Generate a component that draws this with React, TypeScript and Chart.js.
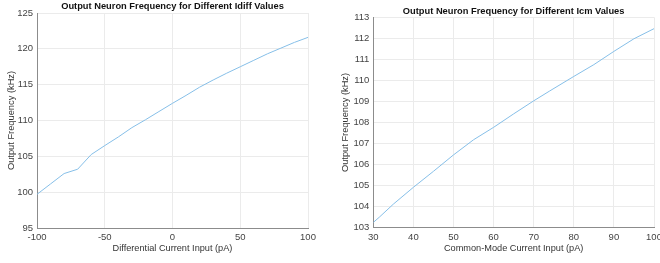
import React, { useEffect, useRef } from 'react';
import { Chart, registerables } from 'chart.js';

Chart.register(...registerables);

// ---- Data: left chart (differential current sweep) ----
const idiffInput = [-100, -90, -80, -70, -60, -50, -40, -30, -20, -10, 0, 10, 20, 30, 40, 50, 60, 70, 80, 90, 100];
const idiffFreq = [99.7, 101.15, 102.6, 103.2, 105.25, 106.5, 107.7, 109.0, 110.1, 111.25, 112.4, 113.5, 114.65, 115.65, 116.6, 117.5, 118.4, 119.3, 120.1, 120.9, 121.6];
const idiffXRange = [-100, 100, 50];
const idiffYRange = [95, 125, 5];

// ---- Data: right chart (common-mode current sweep) ----
const icmInput = [30, 31.5, 35, 40, 45, 50, 55, 60, 65, 70, 74, 80, 85, 90, 95, 100];
const icmFreq = [103.25, 103.5, 104.12, 104.92, 105.68, 106.46, 107.18, 107.77, 108.41, 109.03, 109.5, 110.19, 110.75, 111.38, 111.98, 112.46];
const icmXRange = [30, 100, 10];
const icmYRange = [103, 113, 1];

const titles = [
  'Output Neuron Frequency for Different Idiff Values',
  'Output Neuron Frequency for Different Icm Values',
];
const xTitles = ['Differential Current Input (pA)', 'Common-Mode Current Input (pA)'];
const yTitle = 'Output Frequency (kHz)';

const FONT = "'Liberation Sans', Arial, Helvetica, sans-serif";
const LINE_COLOR = '#86bfe8';
const GRID_COLOR = '#ebebeb';
const AXIS_COLOR = '#8c8c8c';
const TICK_COLOR = '#444444';

type Cfg = {
  xs: number[];
  ys: number[];
  xr: number[];
  yr: number[];
  title: string;
  xTitle: string;
  pad: { top: number; right: number };
  yWidth: number;
  xHeight: number;
  yTitlePad: number;
  titleOffset: number;
};

const titlePlugin = {
  id: 'plotTitle',
  afterDraw(chart: any, _args: any, opts: any) {
    const { ctx, chartArea } = chart;
    ctx.save();
    ctx.font = `bold 9.3px ${FONT}`;
    ctx.fillStyle = '#111111';
    ctx.textAlign = 'center';
    ctx.textBaseline = 'middle';
    ctx.fillText(opts.text, (chartArea.left + chartArea.right) / 2, chartArea.top - opts.offset);
    ctx.restore();
  },
};

function Plot({ cfg }: { cfg: Cfg }) {
  const ref = useRef<HTMLCanvasElement | null>(null);
  useEffect(() => {
    if (!ref.current) return;
    const chart = new Chart(ref.current, {
      type: 'line',
      data: {
        datasets: [
          {
            data: cfg.xs.map((x, i) => ({ x, y: cfg.ys[i] })),
            borderColor: LINE_COLOR,
            borderWidth: 1,
            pointRadius: 0,
            tension: 0,
            fill: false,
          },
        ],
      },
      plugins: [titlePlugin],
      options: {
        animation: false,
        responsive: false,
        devicePixelRatio: 1,
        layout: { padding: { top: cfg.pad.top, right: cfg.pad.right, bottom: 0, left: 0 } },
        plugins: {
          legend: { display: false },
          tooltip: { enabled: false },
          plotTitle: { text: cfg.title, offset: cfg.titleOffset },
        } as any,
        scales: {
          x: {
            type: 'linear',
            min: cfg.xr[0],
            max: cfg.xr[1],
            ticks: {
              stepSize: cfg.xr[2],
              autoSkip: false,
              maxRotation: 0,
              padding: 3.5,
              color: TICK_COLOR,
              font: { family: FONT, size: 9.5 },
            },
            grid: { color: GRID_COLOR, drawTicks: false, lineWidth: 1 },
            border: { color: AXIS_COLOR, width: 1 },
            title: {
              display: true,
              text: cfg.xTitle,
              color: '#333333',
              font: { family: FONT, size: 9.2 },
              padding: { top: 0, bottom: 8.6 },
            },
            afterFit(scale: any) {
              scale.height = cfg.xHeight;
              scale.paddingLeft = 0;
              scale.paddingRight = 0;
            },
          },
          y: {
            type: 'linear',
            min: cfg.yr[0],
            max: cfg.yr[1],
            ticks: {
              stepSize: cfg.yr[2],
              autoSkip: false,
              padding: 4,
              color: TICK_COLOR,
              font: { family: FONT, size: 9.5 },
            },
            grid: { color: GRID_COLOR, drawTicks: false, lineWidth: 1 },
            border: { color: AXIS_COLOR, width: 1 },
            title: {
              display: true,
              text: yTitle,
              color: '#333333',
              font: { family: FONT, size: 9.3 },
              padding: { top: cfg.yTitlePad, bottom: 0 },
            },
            afterFit(scale: any) {
              scale.width = cfg.yWidth;
              scale.paddingTop = 0;
              scale.paddingBottom = 0;
            },
          },
        },
      } as any,
    });
    return () => chart.destroy();
  }, [cfg]);
  return <canvas ref={ref} width={330} height={263} style={{ display: 'block', width: 330, height: 263 }} />;
}

const leftCfg: Cfg = {
  xs: idiffInput,
  ys: idiffFreq,
  xr: idiffXRange,
  yr: idiffYRange,
  title: titles[0],
  xTitle: xTitles[0],
  pad: { top: 13, right: 22 },
  yWidth: 37,
  xHeight: 35,
  yTitlePad: 6.2,
  titleOffset: 6.3,
};

const rightCfg: Cfg = {
  xs: icmInput,
  ys: icmFreq,
  xr: icmXRange,
  yr: icmYRange,
  title: titles[1],
  xTitle: xTitles[1],
  pad: { top: 17.3, right: 6 },
  yWidth: 43.3,
  xHeight: 35.3,
  yTitlePad: 9.5,
  titleOffset: 5.7,
};

export default function App() {
  return (
    <div style={{ position: 'absolute', left: 0, top: 0, width: 660, height: 263, background: '#ffffff', display: 'flex' }}>
      <Plot cfg={leftCfg} />
      <Plot cfg={rightCfg} />
    </div>
  );
}
